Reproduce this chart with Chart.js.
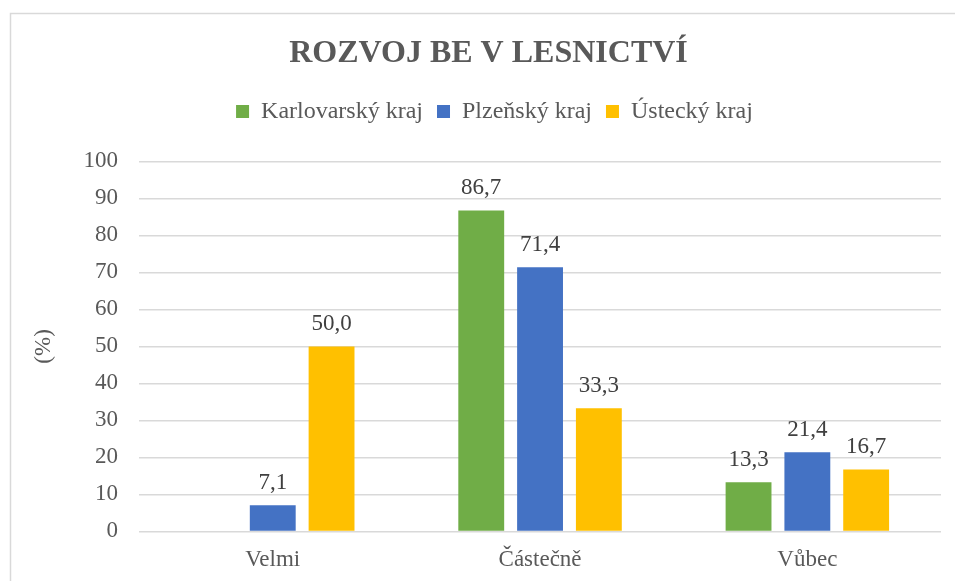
<!DOCTYPE html>
<html>
<head>
<meta charset="utf-8">
<script src="https://cdn.jsdelivr.net/npm/chart.js@4"></script>
<style>
  html, body { margin: 0; padding: 0; background: #fff; }
  .wrap { width: 955px; height: 581px; }
</style>
</head>
<body>
<div class="wrap"><canvas class="Chart"></canvas></div>
<script>
const categories = ["Velmi", "Částečně", "Vůbec"];
const karlovarsky = [null, 86.7, 13.3];
const plzensky = [7.1, 71.4, 21.4];
const ustecky = [50.0, 33.3, 16.7];
const yTicks = [0, 10, 20, 30, 40, 50, 60, 70, 80, 90, 100];

const grey = "#595959";
const serif = "'Liberation Serif', 'Times New Roman', serif";

// frame around the chart, like the Excel chart border
const frame = {
  id: "frame",
  beforeDraw(chart) {
    const ctx = chart.ctx;
    ctx.save();
    ctx.strokeStyle = "#D9D9D9";
    ctx.lineWidth = 1.5;
    ctx.strokeRect(10.5, 13.5, 1000, 700);
    ctx.restore();
  },
};

// extra room under the legend, and nudge title/legend into place
const legendGap = {
  id: "legendGap",
  beforeInit(chart) {
    const fit = chart.legend.fit;
    chart.legend.fit = function () {
      fit.bind(chart.legend)();
      this.height += 35;
    };
  },
  afterLayout(chart) {
    chart.legend.left += 11;
    chart.legend.right += 11;
    chart.legend.top += 7;
    chart.titleBlock.left += 5;
    chart.titleBlock.right += 5;
  },
};

// value labels above bars, with decimal comma
const valueLabels = {
  id: "valueLabels",
  afterDatasetsDraw(chart) {
    const ctx = chart.ctx;
    ctx.save();
    ctx.font = "23px " + serif;
    ctx.fillStyle = "#404040";
    ctx.textAlign = "center";
    ctx.textBaseline = "bottom";
    chart.data.datasets.forEach((ds, i) => {
      chart.getDatasetMeta(i).data.forEach((bar, j) => {
        const v = ds.data[j];
        if (v === null) return;
        ctx.fillText(v.toFixed(1).replace(".", ","), bar.x, bar.y - 11);
      });
    });
    ctx.restore();
  },
};

const canvas = document.querySelector(".Chart");

new Chart(canvas, {
  type: "bar",
  data: {
    labels: categories,
    datasets: [
      { label: "Karlovarský kraj", data: karlovarsky, backgroundColor: "#70AD47" },
      { label: "Plzeňský kraj", data: plzensky, backgroundColor: "#4472C4" },
      { label: "Ústecký kraj", data: ustecky, backgroundColor: "#FFC000" },
    ],
  },
  options: {
    responsive: true,
    maintainAspectRatio: false,
    animation: false,
    categoryPercentage: 0.66,
    barPercentage: 0.78,
    layout: { padding: { top: 35, left: 26, right: 14, bottom: 0 } },
    plugins: {
      title: {
        display: true,
        text: "ROZVOJ BE V LESNICTVÍ",
        color: grey,
        font: { family: serif, size: 32, weight: "bold" },
        padding: { top: 0, bottom: 5 },
      },
      legend: {
        position: "top",
        labels: {
          color: grey,
          font: { family: serif, size: 24 },
          boxWidth: 13,
          boxHeight: 13,
          padding: 14,
        },
      },
      tooltip: { enabled: false },
    },
    scales: {
      x: {
        grid: { display: false },
        border: { display: false },
        ticks: { color: grey, font: { family: serif, size: 23 }, padding: 7 },
      },
      y: {
        min: 0,
        max: 100,
        afterBuildTicks(axis) {
          axis.ticks = yTicks.map((v) => ({ value: v }));
        },
        grid: { color: "#D9D9D9", lineWidth: 1.5, drawTicks: false },
        border: { display: false },
        ticks: { color: grey, font: { family: serif, size: 23 }, padding: 21 },
        title: {
          display: true,
          text: "(%)",
          color: grey,
          font: { family: serif, size: 23 },
          padding: { bottom: 5 },
        },
      },
    },
  },
  plugins: [frame, legendGap, valueLabels],
});
</script>
</body>
</html>
